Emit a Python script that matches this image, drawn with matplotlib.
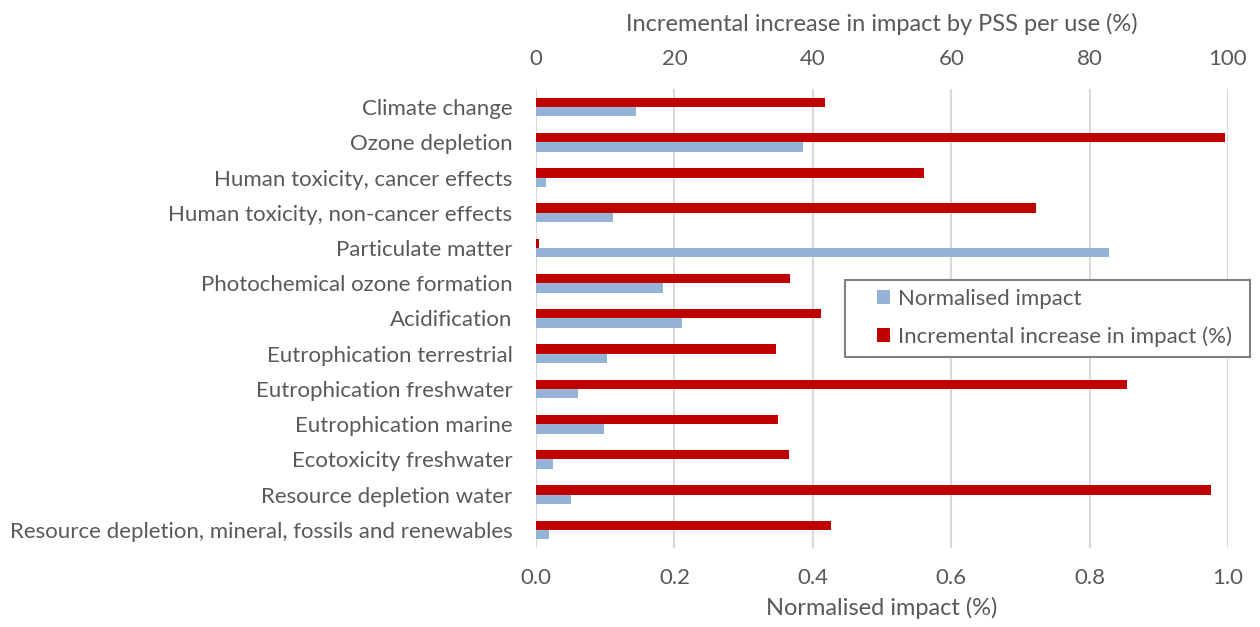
import matplotlib
matplotlib.use("Agg")
import matplotlib.pyplot as plt
from matplotlib.patches import Rectangle
import numpy as np

categories = [
    "Climate change",
    "Ozone depletion",
    "Human toxicity, cancer effects",
    "Human toxicity, non-cancer effects",
    "Particulate matter",
    "Photochemical ozone formation",
    "Acidification",
    "Eutrophication terrestrial",
    "Eutrophication freshwater",
    "Eutrophication marine",
    "Ecotoxicity freshwater",
    "Resource depletion water",
    "Resource depletion, mineral, fossils and renewables",
]
normalised = [0.144, 0.386, 0.015, 0.111, 0.828, 0.183, 0.211, 0.102, 0.060, 0.098, 0.024, 0.051, 0.019]
incremental = [41.7, 99.5, 56.1, 72.2, 0.4, 36.7, 41.2, 34.7, 85.4, 35.0, 36.5, 97.5, 42.7]

bottom_ticks = [0.0, 0.2, 0.4, 0.6, 0.8, 1.0]
top_ticks = [0, 20, 40, 60, 80, 100]

BLUE = "#95B3D7"
RED = "#C00000"
GREY_TXT = "#595959"

plt.rcParams["font.family"] = ["Lato", "DejaVu Sans"]

W, H = 1260, 627
fig = plt.figure(figsize=(W / 100, H / 100), dpi=100)
ax = fig.add_axes([0.4254, 0.1267, 0.5492, 0.7307])
ax2 = ax.twiny()

y = np.arange(len(categories))
h = 0.265

ax.barh(y + h / 2, normalised, height=h, color=BLUE, label="Normalised impact", zorder=3)
ax2.barh(y - h / 2, incremental, height=h, color=RED, label="Incremental increase in impact (%)", zorder=3)

ax.set_xlim(0, 1.0)
ax2.set_xlim(0, 100)
ax.set_ylim(len(categories) - 0.5, -0.5)

ax.set_xticks(bottom_ticks)
ax.set_xticklabels([f"{t:.1f}" for t in bottom_ticks])
ax2.set_xticks(top_ticks)
ax2.set_xticklabels([str(t) for t in top_ticks])
ax.set_yticks(y)
ax.set_yticklabels(categories)

ax.grid(axis="x", color="#D9D9D9", linewidth=1.5, zorder=0)
ax.set_axisbelow(True)

for a in (ax, ax2):
    for s in a.spines.values():
        s.set_visible(False)
    a.tick_params(length=0, labelsize=16, colors=GREY_TXT)

ax.tick_params(axis="x", pad=15)
ax2.tick_params(axis="x", pad=15)
ax.tick_params(axis="y", pad=17)

ax.set_xlabel("Normalised impact (%)", fontsize=17, color=GREY_TXT, labelpad=6)
ax2.set_xlabel("Incremental increase in impact by PSS per use (%)", fontsize=17, color=GREY_TXT, labelpad=13)

# legend box drawn separately so the inner padding matches
fig.patches.append(Rectangle((845 / W, 1 - 357 / H), 405 / W, 77 / H, transform=fig.transFigure,
                             facecolor="white", edgecolor="#808080", linewidth=1.5, zorder=5))

handles = [ax.patches[0], ax2.patches[0]]
labels = ["Normalised impact", "Incremental increase in impact (%)"]
leg = fig.legend(handles, labels, loc="center left", bbox_to_anchor=(877 / W, 1 - 318 / H),
                 fontsize=16, frameon=False,
                 handlelength=0.6, handleheight=0.6, handletextpad=0.35,
                 labelspacing=0.8, borderpad=0, borderaxespad=0)
leg.set_zorder(6)
for t in leg.get_texts():
    t.set_color(GREY_TXT)

fig.savefig("out.png", dpi=100)
